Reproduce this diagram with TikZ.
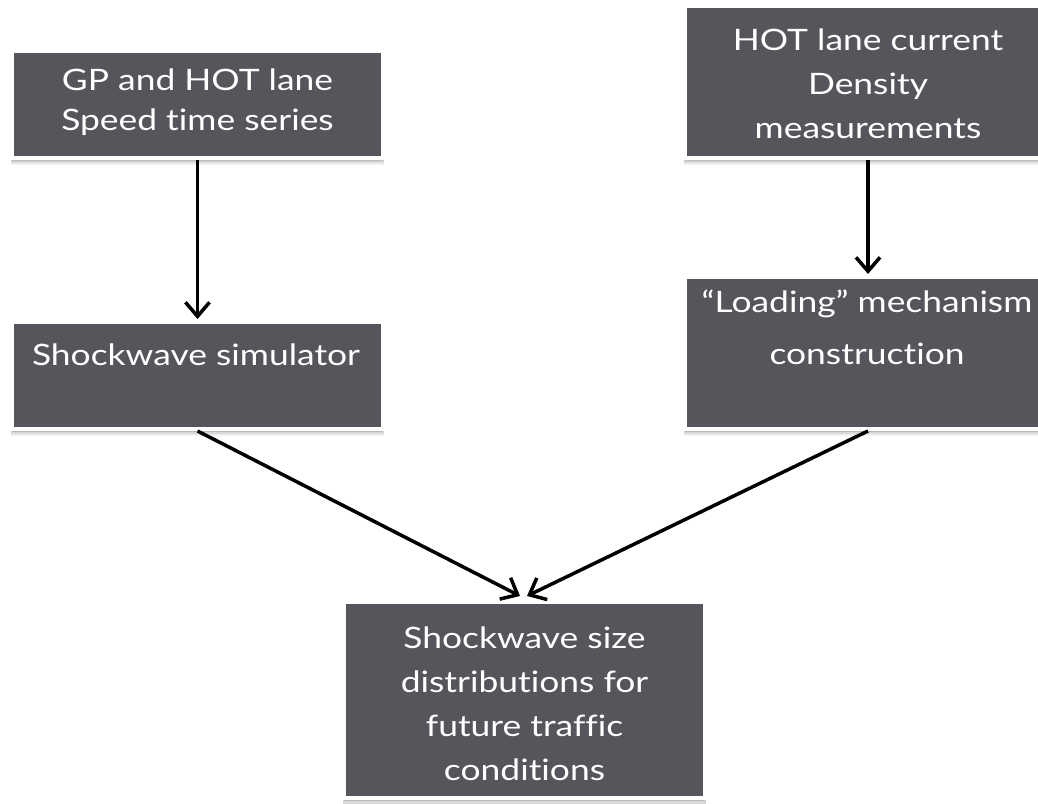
\documentclass[tikz,border=0pt]{standalone}
\usepackage{fontspec}
\setmainfont{Lato}[Ligatures=CommonOff, FakeStretch=1.2]
\usetikzlibrary{arrows.meta,shadows,calc}
\definecolor{boxgray}{RGB}{86,85,92}
\tikzset{
  box/.style={draw=white, line width=4pt, fill=boxgray, inner sep=0pt,
    drop shadow={shadow xshift=0pt, shadow yshift=-7pt, shadow scale=1.005, opacity=0.06, fill=black, draw=none},
    drop shadow={shadow xshift=0pt, shadow yshift=-5pt, shadow scale=1.005, opacity=0.10, fill=black, draw=none},
    drop shadow={shadow xshift=0pt, shadow yshift=-3pt, shadow scale=1.0, opacity=0.14, fill=black, draw=none}},
  boxtext/.style={anchor=base, inner sep=0pt, text=white, font=\fontsize{29.5}{40}\selectfont},
  flow/.style={line width=3.5pt, -{Straight Barb[length=14pt,width=24pt,line width=3.5pt]}}
}
\begin{document}
\begin{tikzpicture}[x=1pt,y=-1pt]
\useasboundingbox (0,0) rectangle (1038,803);
\node[box, minimum width=371pt, minimum height=107pt] (b1) at (197.5,104.5) {};
\node[box, minimum width=366pt, minimum height=152pt] (b2) at (868,82) {};
\node[box, minimum width=371pt, minimum height=107pt] (b3) at (197.5,375.5) {};
\node[box, minimum width=366pt, minimum height=152pt] (b4) at (868,353) {};
\node[box, minimum width=361pt, minimum height=196pt] (b5) at (524.5,700) {};
\node[boxtext] (t1) at (197.5,90) {\parbox[t]{360pt}{\centering\baselineskip=40pt GP and HOT lane\\Speed time series}};
\node[boxtext] (t2) at (868,50) {\parbox[t]{360pt}{\centering\baselineskip=44pt HOT lane current\\Density\\measurements}};
\node[boxtext] (t3) at (196,365) {\parbox[t]{360pt}{\centering Shockwave simulator}};
\node[boxtext] (t4) at (867,312) {\parbox[t]{360pt}{\centering\baselineskip=52pt “Loading” mechanism\\construction}};
\node[boxtext] (t5) at (524.5,648) {\parbox[t]{360pt}{\centering\baselineskip=44pt Shockwave size\\distributions for\\future traffic\\conditions}};
\coordinate (e1) at ($(b5.north)+(-4.5,-4)$);
\coordinate (e2) at ($(b5.north)+(2.5,-4)$);
\draw[flow] (b1.south) -- ($(b3.north)+(0,-1)$);
\draw[flow] (b2.south) -- ($(b4.north)+(0,-1)$);
\draw[flow] (b3.south) -- (e1);
\draw[flow] (b4.south) -- (e2);
\end{tikzpicture}
\end{document}
